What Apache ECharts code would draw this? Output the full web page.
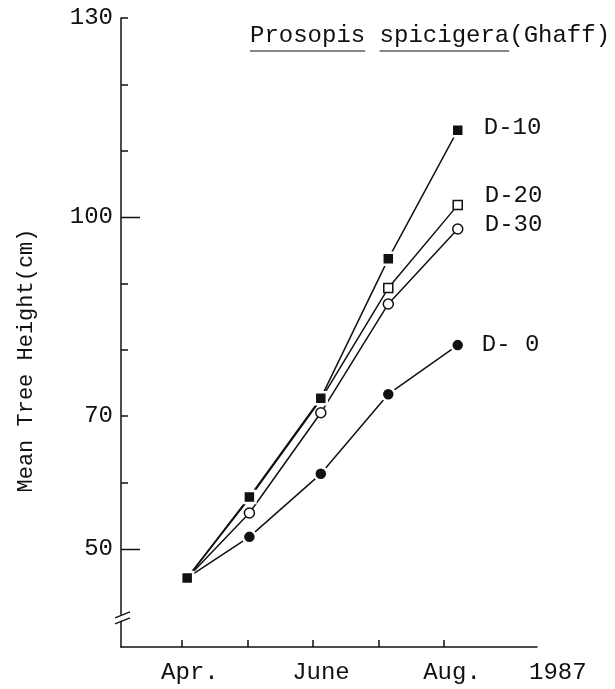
<!DOCTYPE html>
<html>
<head>
<meta charset="utf-8">
<script src="https://cdn.jsdelivr.net/npm/echarts@6/dist/echarts.min.js"></script>
<style>
  html, body { margin: 0; padding: 0; background: #fff; }
  #chart { width: 615px; height: 689px; }
</style>
</head>
<body>
<div id="chart"></div>
<script>
// Month positions for axis ticks and the labelled months
const monthTicks = [4, 5, 6, 7, 8];
const monthLabelValues = [4, 6, 8];
const monthNames = { 4: 'Apr.', 6: 'June', 8: 'Aug.' };
const yearLabel = '1987';

// Sampling dates (in months) for each measurement
const sampleMonth = [4.08, 5.03, 6.12, 7.15, 8.21];

// Mean tree height (cm) per treatment
const heightD10 = [45.6, 57.8, 72.7, 93.7, 113.1];
const heightD20 = [45.6, 57.6, 72.5, 89.3, 101.8];
const heightD30 = [45.6, 55.4, 70.5, 86.9, 98.2];
const heightD0  = [45.6, 51.8, 61.3, 73.3, 80.7];

// Y axis ticks and labels
const yLabelValues = [50, 70, 100, 130];
const yShortTicks = [60, 70, 80, 90, 110, 120, 130];
const yLongTicks = [50, 100];

const FONT = '"Liberation Mono", "Courier New", monospace';
const INK = '#111';
const Y_MIN = 35.2, Y_MAX = 130, X_MIN = 3.07, X_MAX = 9.42;

function pairs(ys) {
  return ys.map((y, i) => [sampleMonth[i], y]);
}

function makeSeries(name, ys, symbol, filled, dy, dist) {
  const isRect = symbol === 'rect';
  return {
    name: name,
    type: 'line',
    data: pairs(ys),
    symbol: symbol,
    // filled marks get a white ring so the joining lines stop short of them
    symbolSize: filled ? (isRect ? 12 : 13) : (isRect ? 9 : 10),
    lineStyle: { color: INK, width: 1.5 },
    itemStyle: {
      color: filled ? INK : '#fff',
      borderColor: filled ? '#fff' : INK,
      borderWidth: filled ? 2.5 : 1.5
    },
    emphasis: { disabled: true },
    animation: false,
    endLabel: {
      show: true,
      formatter: '{a}',
      distance: dist,
      offset: [0, dy],
      color: INK,
      fontFamily: FONT,
      fontSize: 24
    }
  };
}

const chart = echarts.init(document.getElementById('chart'), null, { renderer: 'canvas' });

const option = {
  backgroundColor: '#fff',
  animation: false,
  title: {
    text: 'Prosopis spicigera(Ghaff)',
    left: 250,
    top: 24,
    padding: 0,
    textStyle: { fontFamily: FONT, fontSize: 24, fontWeight: 'normal', color: INK }
  },
  grid: { left: 121, right: 78, top: 18, bottom: 42 },
  xAxis: {
    type: 'value',
    min: X_MIN,
    max: X_MAX,
    name: yearLabel,
    nameLocation: 'end',
    nameGap: -8,
    nameTextStyle: {
      fontFamily: FONT, fontSize: 24, color: INK,
      verticalAlign: 'top', padding: [14, 0, 0, 0]
    },
    axisLine: { show: true, lineStyle: { color: INK, width: 1.5 } },
    axisTick: { show: true, inside: true, length: 7, customValues: monthTicks, lineStyle: { color: INK, width: 1.5 } },
    axisLabel: {
      customValues: monthLabelValues,
      formatter: v => monthNames[v] || '',
      margin: 14,
      padding: [0, 0, 0, 16],
      fontFamily: FONT, fontSize: 24, color: INK
    },
    splitLine: { show: false }
  },
  yAxis: {
    type: 'value',
    min: Y_MIN,
    max: Y_MAX,
    name: 'Mean Tree Height(cm)',
    nameLocation: 'middle',
    nameGap: 84,
    nameTextStyle: { fontFamily: FONT, fontSize: 22, color: INK, padding: [0, 56, 0, 0] },
    axisLine: { show: true, lineStyle: { color: INK, width: 1.5 } },
    axisTick: { show: true, inside: true, length: 7, customValues: yShortTicks, lineStyle: { color: INK, width: 1.5 } },
    axisLabel: {
      customValues: yLabelValues,
      margin: 8,
      fontFamily: FONT, fontSize: 24, color: INK
    },
    splitLine: { show: false }
  },
  series: [
    makeSeries('D- 0', heightD0, 'circle', true, 0, 24),
    makeSeries('D-30', heightD30, 'circle', false, -4, 27),
    makeSeries('D-20', heightD20, 'rect', false, -9, 27),
    makeSeries('D-10', heightD10, 'rect', true, -2, 26)
  ]
};

chart.setOption(option);

// Title underlines, long ticks at 50 and 100, and the axis break mark
(function decorate() {
  const ctx = document.createElement('canvas').getContext('2d');
  ctx.font = '24px ' + FONT;
  const cw = ctx.measureText('M').width;
  const tx = 250, uy = 51;
  const axisX = chart.convertToPixel({ xAxisIndex: 0 }, X_MIN);
  const yc = chart.convertToPixel({ yAxisIndex: 0 }, 39.6);
  const stroke = { stroke: INK, lineWidth: 1.5 };
  const graphics = [
    { type: 'line', shape: { x1: tx, y1: uy, x2: tx + 8 * cw, y2: uy }, style: { stroke: INK, lineWidth: 1.2 } },
    { type: 'line', shape: { x1: tx + 9 * cw, y1: uy, x2: tx + 18 * cw, y2: uy }, style: { stroke: INK, lineWidth: 1.2 } },
    { type: 'rect', shape: { x: axisX - 3, y: yc - 3, width: 6, height: 6 }, style: { fill: '#fff' }, z: 100 },
    { type: 'line', shape: { x1: axisX - 6, y1: yc, x2: axisX + 9, y2: yc - 6 }, style: { stroke: INK, lineWidth: 1.4 }, z: 101 },
    { type: 'line', shape: { x1: axisX - 6, y1: yc + 6, x2: axisX + 9, y2: yc }, style: { stroke: INK, lineWidth: 1.4 }, z: 101 }
  ];
  yLongTicks.forEach(v => {
    const py = Math.round(chart.convertToPixel({ yAxisIndex: 0 }, v)) + 0.5;
    graphics.push({ type: 'line', shape: { x1: axisX, y1: py, x2: axisX + 19, y2: py }, style: stroke, z: 50 });
  });
  chart.setOption({ graphic: graphics });
})();
</script>
</body>
</html>
